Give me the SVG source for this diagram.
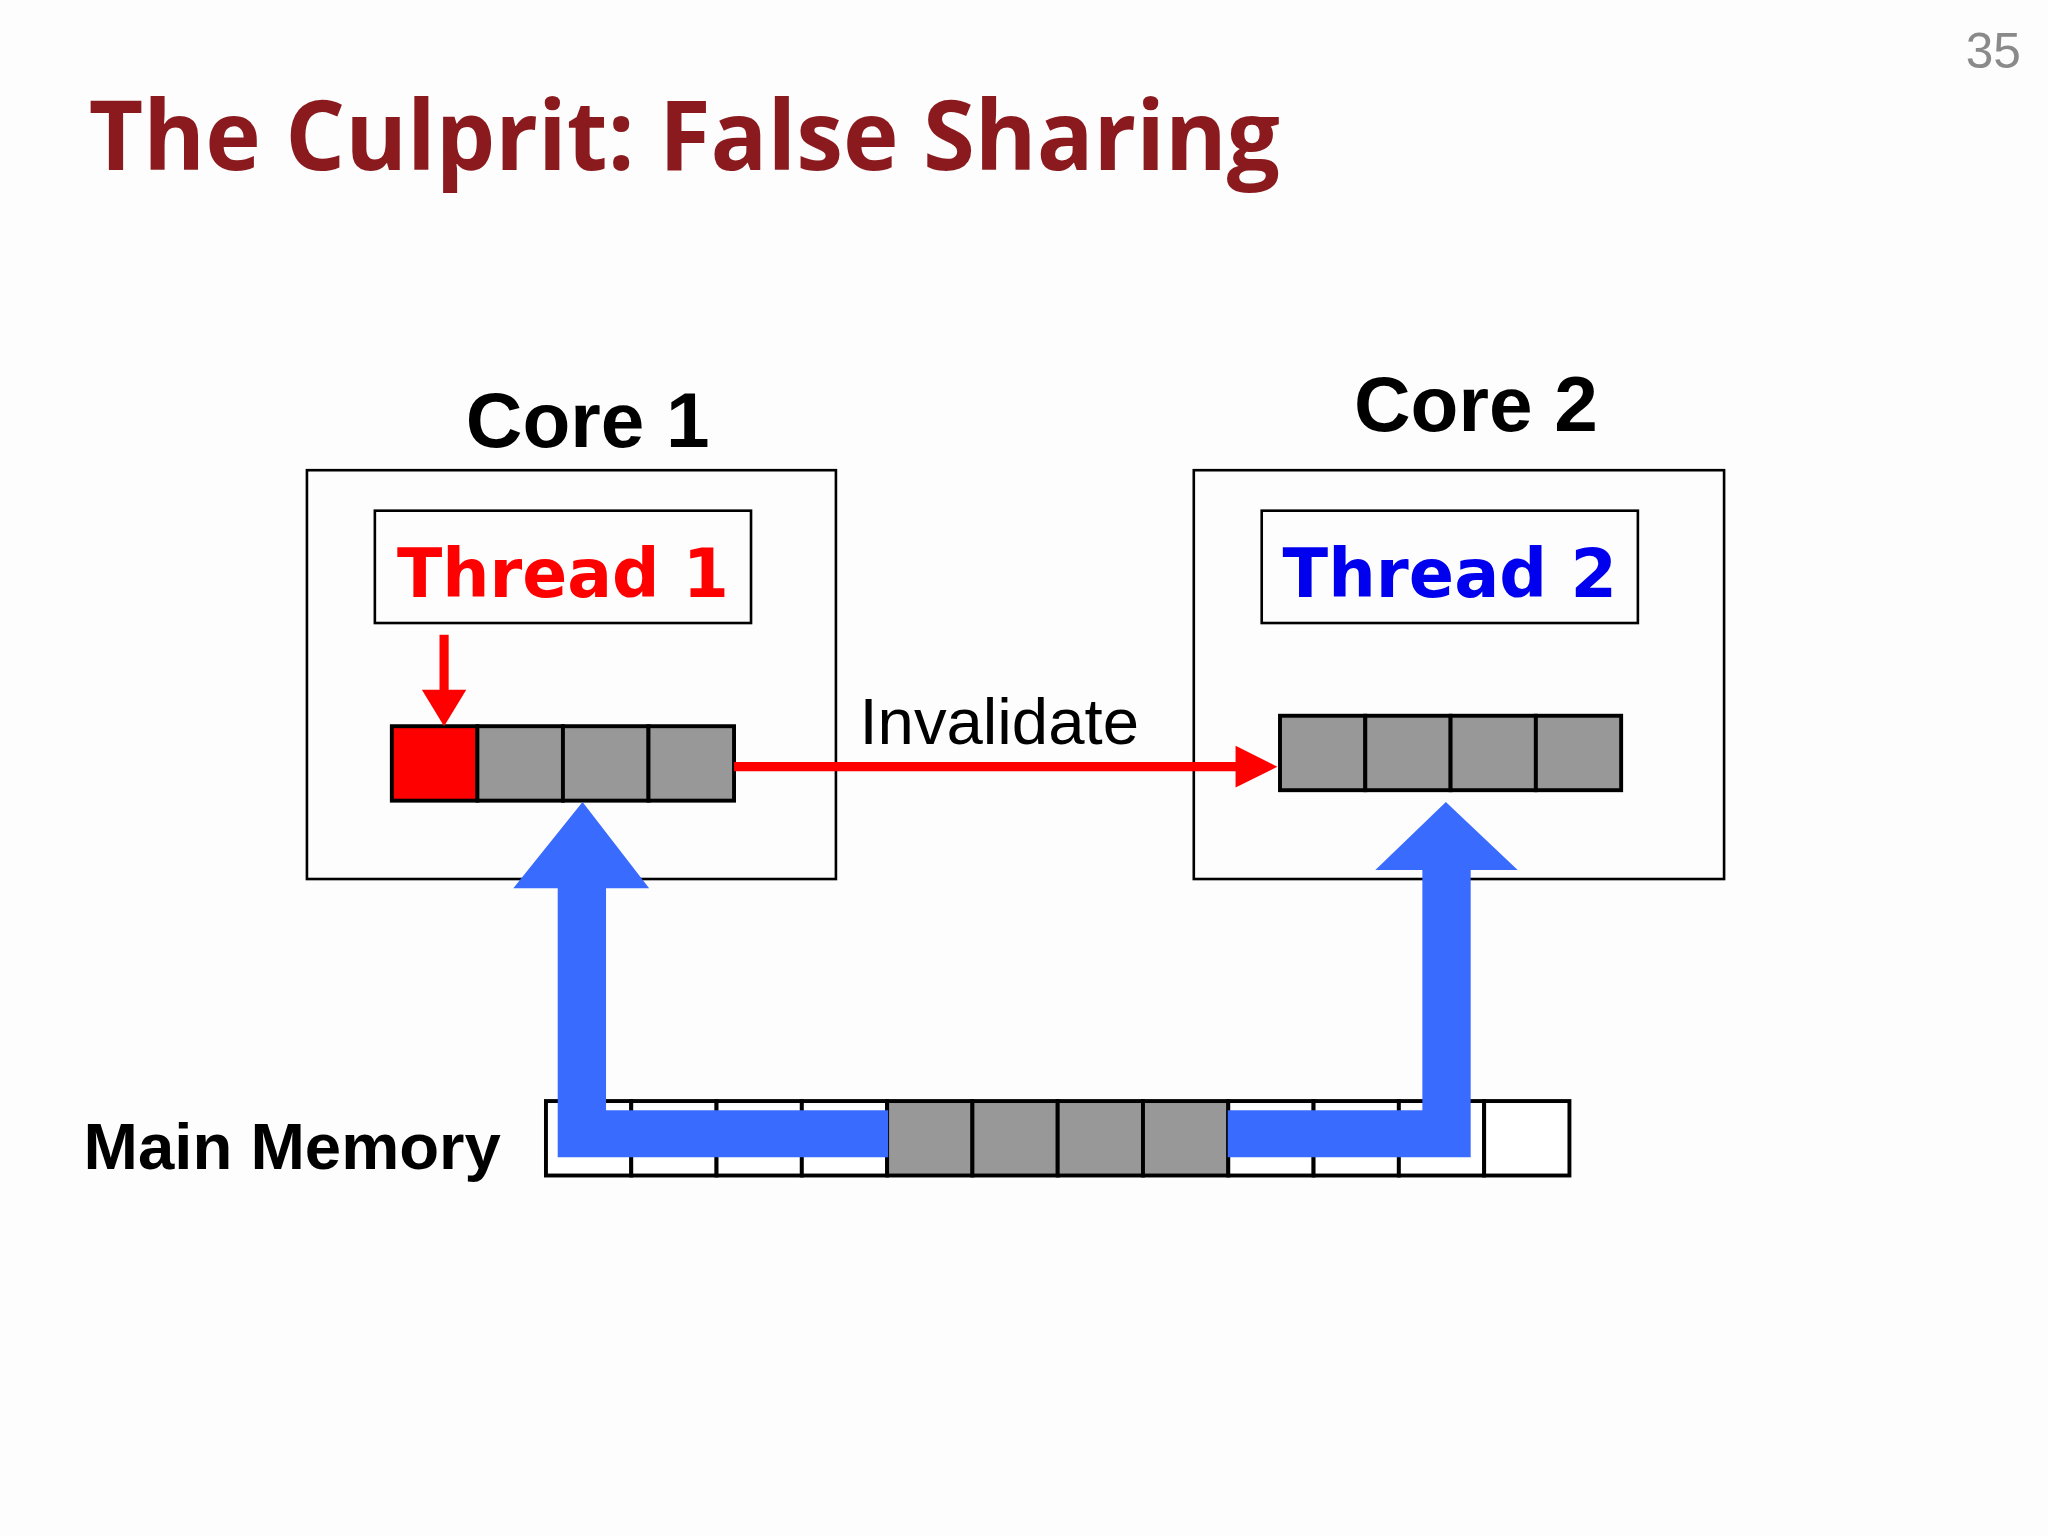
<svg xmlns="http://www.w3.org/2000/svg" width="2048" height="1536" viewBox="0 0 2048 1536">
<style>
.box{fill:none;stroke:#000;stroke-width:2}
.cell{fill:#989898;stroke:#000;stroke-width:3}
.mem{fill:#fff;stroke:#000;stroke-width:3}
.b{font-family:"Liberation Sans",Arial,sans-serif;font-weight:bold}
.blue{fill:#3A6BFF}
</style>
<rect width="2048" height="1536" fill="#fdfdfd"/>
<g transform="scale(1.30612)">
<text x="1505" y="52" font-family="Liberation Sans,sans-serif" font-size="38" fill="#8a8a8a">35</text>
<text x="68" y="130" font-family="Open Sans,sans-serif" font-weight="bold" font-size="74" fill="#8B1A1F" textLength="912" lengthAdjust="spacingAndGlyphs">The Culprit: False Sharing</text>
<g id="core1">
<rect class="box" x="235" y="360" width="405" height="313"/>
<text class="b" x="450" y="342" font-size="60" text-anchor="middle">Core 1</text>
</g>
<g id="core2">
<rect class="box" x="914" y="360" width="406" height="313"/>
<text class="b" x="1130" y="330" font-size="60" text-anchor="middle">Core 2</text>
</g>
<g id="thread1">
<rect class="box" x="287" y="391" width="288" height="86"/>
<text x="431" y="457" font-family="DejaVu Sans,sans-serif" font-weight="bold" font-size="52" fill="#ff0000" text-anchor="middle" textLength="254" lengthAdjust="spacingAndGlyphs">Thread 1</text>
</g>
<g id="thread2">
<rect class="box" x="966" y="391" width="288" height="86"/>
<text x="1110" y="457" font-family="DejaVu Sans,sans-serif" font-weight="bold" font-size="52" fill="#0000ee" text-anchor="middle" textLength="256" lengthAdjust="spacingAndGlyphs">Thread 2</text>
</g>
<g id="cache1">
<rect x="300" y="556" width="65.5" height="57" fill="#ff0000" stroke="#000" stroke-width="3"/>
<rect class="cell" x="365.5" y="556" width="65.5" height="57"/>
<rect class="cell" x="431" y="556" width="65.5" height="57"/>
<rect class="cell" x="496.5" y="556" width="65.5" height="57"/>
</g>
<g id="cache2">
<rect class="cell" x="980" y="548" width="65.3" height="57"/>
<rect class="cell" x="1045.3" y="548" width="65.3" height="57"/>
<rect class="cell" x="1110.6" y="548" width="65.3" height="57"/>
<rect class="cell" x="1175.9" y="548" width="65.3" height="57"/>
</g>
<g id="memory">
<text class="b" x="64" y="895" font-size="50">Main Memory</text>
<rect class="mem" x="418" y="843" width="65.3" height="57"/>
<rect class="mem" x="483.3" y="843" width="65.3" height="57"/>
<rect class="mem" x="548.6" y="843" width="65.3" height="57"/>
<rect class="mem" x="613.9" y="843" width="65.3" height="57"/>
<rect class="cell" x="679.2" y="843" width="65.3" height="57"/>
<rect class="cell" x="744.5" y="843" width="65.3" height="57"/>
<rect class="cell" x="809.8" y="843" width="65.3" height="57"/>
<rect class="cell" x="875.1" y="843" width="65.3" height="57"/>
<rect class="mem" x="940.4" y="843" width="65.3" height="57"/>
<rect class="mem" x="1005.7" y="843" width="65.3" height="57"/>
<rect class="mem" x="1071" y="843" width="65.3" height="57"/>
<rect class="mem" x="1136.3" y="843" width="65.3" height="57"/>
</g>
<g id="connectors">
<line x1="340" y1="486" x2="340" y2="530" stroke="#ff0000" stroke-width="7"/>
<polygon points="323,528 357,528 340,556" fill="#ff0000"/>
<line x1="562" y1="587" x2="948" y2="587" stroke="#ff0000" stroke-width="7"/>
<polygon points="946,571 978,587 946,603" fill="#ff0000"/>
<text x="658" y="570" font-family="Liberation Sans,sans-serif" font-size="50">Invalidate</text>
<polygon class="blue" points="446,614 497,680 464,680 464,850 680,850 680,886 427,886 427,680 393,680"/>
<polygon class="blue" points="1107,614 1162,666 1126,666 1126,886 940,886 940,850 1089,850 1089,666 1053,666"/>
</g>
</g>
</svg>
